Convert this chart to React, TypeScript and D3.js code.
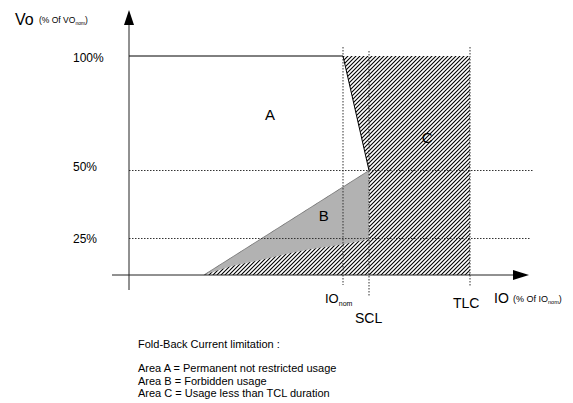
import React from "react";
import * as d3 from "d3";

// ---- data ----
const yKeyValues = [0, 25, 50, 100];
const xKeyValues = [0, 100, 112, 160];
const yTickValues = [100, 50, 25];
const yTickLabels = ["100%", "50%", "25%"];
const ioNom = 100;
const scl = 112;
const tlc = 160;
const limitIO = [0, 100, 112];
const limitVo = [100, 100, 50];
const bStartIO = 35;
const bLowerIO = [35, 47, 63, 78.5, 100, 112];
const bLowerVo = [0, 5.7, 10.8, 16, 21, 24.5];
const areaLabels = ["A", "B", "C"];
const areaIO = [65.9, 91, 139.6];
const areaVo = [74.5, 33.3, 64.2];
const legendLines = [
  "Fold-Back Current limitation :",
  "",
  "Area A = Permanent not restricted usage",
  "Area B = Forbidden usage",
  "Area C = Usage less than TCL duration",
];

const W = 573;
const H = 403;
const FONT = "'Liberation Sans', Arial, sans-serif";

export default function App() {
  const x = d3.scaleLinear().domain(xKeyValues).range([129, 343, 369, 470]);
  const y = d3.scaleLinear().domain(yKeyValues).range([275, 238.5, 170.5, 56]);

  const line = d3.line<[number, number]>().x((d) => x(d[0])).y((d) => y(d[1]));

  const limitPts: [number, number][] = limitIO.map((v, i) => [v, limitVo[i]]);
  const lowerPts: [number, number][] = bLowerIO.map((v, i) => [v, bLowerVo[i]]);

  const curveLine = d3
    .line<[number, number]>()
    .x((d) => x(d[0]))
    .y((d) => y(d[1]))
    .curve(d3.curveMonotoneX);

  // hatched area C
  const hatchPts: [number, number][] = [
    [ioNom, 100],
    [tlc, 100],
    [tlc, 0],
    [bStartIO, 0],
    [scl, 50],
    [ioNom, 100],
  ];
  const hatchPath = line(hatchPts) + "Z";

  // area B: lower curve, then up to SCL/50% and straight back
  const bPath = (curveLine(lowerPts) as string) + `L${x(scl)},${y(50)}Z`;
  const bTop = line([
    [bStartIO, 0],
    [scl, 50],
  ]);

  const tickDy = [5.5, 0, 4];
  const dotted = { stroke: "#333", strokeWidth: 1, strokeDasharray: "1.5,1.5" };

  return (
    <svg
      width={W}
      height={H}
      style={{ position: "absolute", left: 0, top: 0, background: "#fff" }}
      fontFamily={FONT}
    >
      <defs>
        <pattern id="hatch" patternUnits="userSpaceOnUse" width={4} height={4}>
          <path d="M-1,1 l2,-2 M0,4 l4,-4 M3,5 l2,-2" stroke="#000" strokeWidth={1.1} />
        </pattern>
      </defs>

      {/* hatched area C */}
      <path d={hatchPath} fill="url(#hatch)" stroke="none" />
      {/* area B */}
      <path d={bPath} fill="#b2b2b2" stroke="none" />
      <path d={bTop as string} fill="none" stroke="#777" strokeWidth={0.8} />

      {/* dotted guide lines */}
      <line x1={x(0)} x2={534} y1={y(50)} y2={y(50)} {...dotted} />
      <line x1={x(0)} x2={530} y1={y(25)} y2={y(25)} {...dotted} />
      <line x1={x(ioNom)} x2={x(ioNom)} y1={47} y2={285} {...dotted} />
      <line x1={x(scl)} x2={x(scl)} y1={51} y2={296} {...dotted} />
      <line x1={x(tlc)} x2={x(tlc)} y1={47} y2={286} {...dotted} />

      {/* limit line */}
      <path d={line(limitPts) as string} fill="none" stroke="#000" strokeWidth={1} />

      {/* axes */}
      <line x1={112} x2={514} y1={y(0)} y2={y(0)} stroke="#222" strokeWidth={1} />
      <path d={`M529,${y(0)} L513,${y(0) - 5} L513,${y(0) + 5} Z`} fill="#000" />
      <line x1={x(0)} x2={x(0)} y1={290} y2={24} stroke="#222" strokeWidth={1} />
      <path d={`M${x(0)},10 L${x(0) - 5},25 L${x(0) + 5},25 Z`} fill="#000" />

      {/* y tick labels */}
      {yTickValues.map((v, i) => (
        <text key={v} x={73} y={y(v) + tickDy[i]} fontSize={12} fill="#000">
          {yTickLabels[i]}
        </text>
      ))}

      {/* area labels */}
      {areaLabels.map((l, i) => (
        <text
          key={l}
          x={x(areaIO[i])}
          y={y(areaVo[i])}
          fontSize={15}
          textAnchor="middle"
          dominantBaseline="central"
          fill="#000"
        >
          {l}
        </text>
      ))}

      {/* y axis title */}
      <text x={15} y={25} fontSize={16} fill="#000">
        Vo
      </text>
      <text x={39} y={23} fontSize={8.5} fill="#000">
        (% Of VO
        <tspan fontSize={5} dy={2}>nom</tspan>
        <tspan dy={-2}>)</tspan>
      </text>

      {/* x markers */}
      <text x={325} y={303} fontSize={13} fill="#000">
        IO<tspan fontSize={7} dy={3}>nom</tspan>
      </text>
      <text x={355} y={323} fontSize={14} fill="#000">
        SCL
      </text>
      <text x={453} y={308} fontSize={14} fill="#000">
        TLC
      </text>

      {/* x axis title */}
      <text x={494} y={303} fontSize={14} fill="#000">
        IO
      </text>
      <text x={513} y={302} fontSize={9} fill="#000">
        (% Of IO
        <tspan fontSize={5.5} dy={2}>nom</tspan>
        <tspan dy={-2}>)</tspan>
      </text>

      {/* legend text */}
      {legendLines.map((t, i) => (
        <text key={i} x={138} y={348 + i * 12.2} fontSize={11} fill="#000">
          {t}
        </text>
      ))}
    </svg>
  );
}
